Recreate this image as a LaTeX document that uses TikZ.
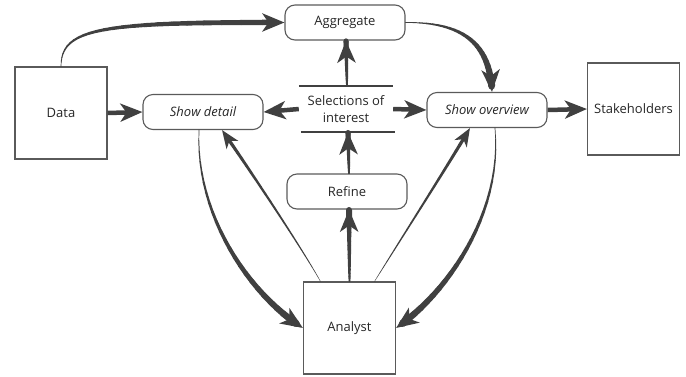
\documentclass[tikz,border=0pt]{standalone}
\usepackage{fontspec}
\setmainfont{Open Sans}
\usetikzlibrary{arrows.meta}
\definecolor{ink}{HTML}{404040}
\definecolor{frame}{HTML}{5A5A5A}
\tikzset{
  lbl/.style={font=\fontsize{13}{17}\selectfont, text=black!85},
  rbox/.style={draw=frame, line width=1.1pt, rounded corners=10pt, minimum width=120pt, minimum height=35pt, inner sep=0pt, lbl},
  sbox/.style={draw=frame, line width=1.1pt, minimum width=92pt, minimum height=92pt, inner sep=0pt, lbl},
  head/.style={-{Stealth[length=22pt,width=18pt,inset=6pt]}},
  headsm/.style={-{Stealth[length=18pt,width=14pt,inset=5pt]}},
  flat/.style={ink, line width=4.5pt, head},
}
% tapered arrow: #1 start, #2 c1, #3 c2, #4 end, #5 w0, #6 w1, #7 head style
\newcommand\taperarrow[7]{%
  \foreach \i in {0,...,24}{%
    \path #1 .. controls #2 and #3 .. #4 coordinate[pos=\i/24] (tp\i);
  }%
  \foreach \i in {0,...,22}{%
    \pgfmathtruncatemacro\j{\i+1}%
    \pgfmathsetmacro\w{#5+(#6-#5)*\i/23}%
    \draw[ink, line width=\w pt, line cap=round] (tp\i) -- (tp\j);
  }%
  \draw[ink, line width=#6pt, #7] (tp23) -- (tp24);
}
\begin{document}
\begin{tikzpicture}[x=1pt,y=-1pt]
\useasboundingbox (0,0) rectangle (686,376);
\node[sbox] (data) at (61,113) {Data};
\node[sbox] (stake) at (633.5,109) {Stakeholders};
\node[sbox] (analyst) at (349.5,328) {Analyst};
\node[rbox] (agg) at (345,22.5) {Aggregate};
\node[rbox] (detail) at (203,112) {\itshape Show detail};
\node[rbox] (overview) at (487,110) {\itshape Show overview};
\node[rbox] (refine) at (347,191.5) {Refine};
\node[lbl, align=center, minimum width=94pt, minimum height=46pt, inner sep=0pt] (sel) at (346,109) {Selections of\\interest};
\draw[ink, line width=1.5pt] (sel.north west) -- (sel.north east);
\draw[ink, line width=1.5pt] ([xshift=2pt]sel.south west) -- ([xshift=2pt]sel.south east);

% straight flat arrows
\draw[flat] (data.east) -- (detail.west);
\draw[flat] (sel.west) -- (detail.east);
\draw[flat] (sel.east) -- (overview.west);
\draw[flat] (overview.east) -- (stake.west);

% vertical tapered arrows
\coordinate (s1) at ([xshift=1pt]sel.north);
\coordinate (a1) at ([xshift=1pt]agg.south);
\taperarrow{(s1)}{(s1)}{(a1)}{(a1)}{1.5}{5}{head}
\coordinate (r1) at ([xshift=2pt]refine.north);
\coordinate (s2) at ([xshift=2pt]sel.south);
\taperarrow{(r1)}{(r1)}{(s2)}{(s2)}{1.5}{5}{head}
\coordinate (an1) at (analyst.north);
\coordinate (r2) at ([xshift=2pt]refine.south);
\taperarrow{(an1)}{(an1)}{(r2)}{(r2)}{1.5}{6}{head}

% curved tapered arrows
\coordinate (d1) at (data.north);
\taperarrow{(d1)}{(61,28)}{(100,22)}{(agg.west)}{0.7}{5.5}{head}
\coordinate (ag1) at (agg.east);
\coordinate (ov1) at ([xshift=5pt]overview.north);
\taperarrow{(ag1)}{(465,22)}{(490,45)}{(ov1)}{0.7}{7}{head}
\coordinate (de1) at ([xshift=-4pt]detail.south);
\taperarrow{(de1)}{(195,215)}{(250,295)}{(analyst.west)}{0.7}{7}{head}
\coordinate (ov2) at ([xshift=8pt]overview.south);
\taperarrow{(ov2)}{(503,215)}{(445,295)}{(analyst.east)}{0.7}{7}{head}
\coordinate (an2) at ([xshift=-29pt]analyst.north);
\coordinate (de2) at ([xshift=19pt]detail.south);
\taperarrow{(an2)}{(303,250)}{(250,170)}{(de2)}{0.4}{3.5}{headsm}
\coordinate (an3) at ([xshift=25pt]analyst.north);
\coordinate (ov3) at ([xshift=-17pt]overview.south);
\taperarrow{(an3)}{(394,250)}{(445,170)}{(ov3)}{0.4}{3.5}{headsm}
\end{tikzpicture}
\end{document}
